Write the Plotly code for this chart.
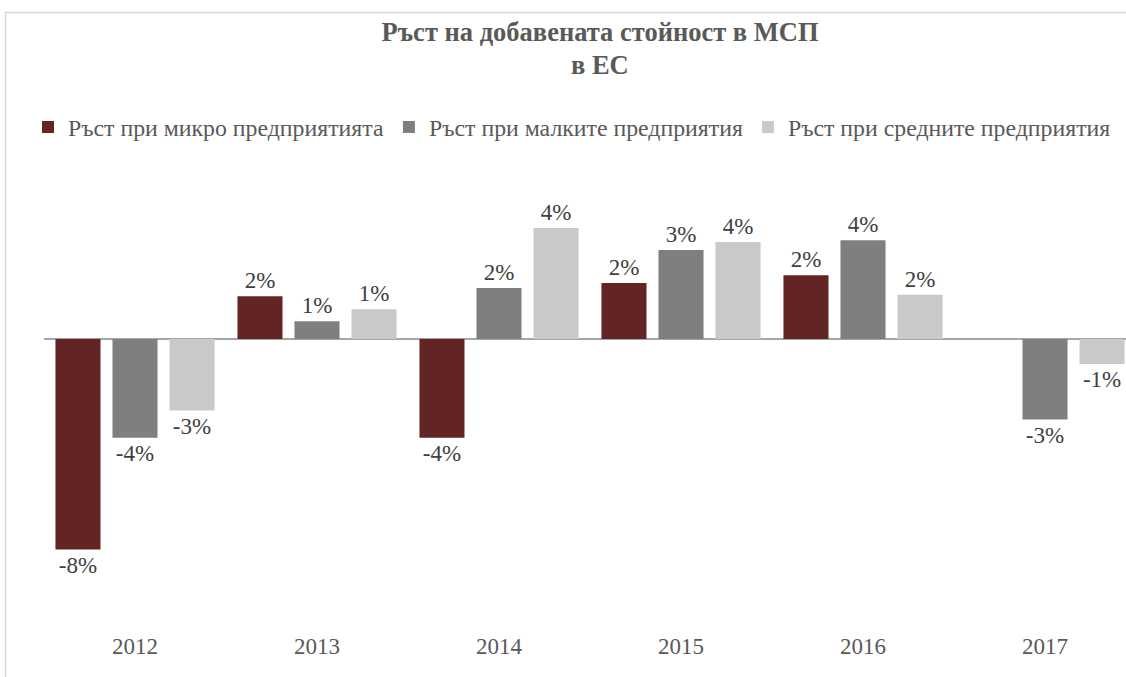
import plotly.graph_objects as go

years = ["2012", "2013", "2014", "2015", "2016", "2017"]
micro = [-8.1, 1.64, -3.8, 2.15, 2.45, None]
small = [-3.8, 0.68, 1.96, 3.42, 3.8, -3.1]
medium = [-2.75, 1.14, 4.27, 3.73, 1.7, -0.96]
names = ["Ръст при микро предприятията", "Ръст при малките предприятия", "Ръст при средните предприятия"]
colors = ["#632523", "#7f7f7f", "#c9c9c9"]
title_lines = ["Ръст на добавената стойност в МСП", "в ЕС"]

def labels(vals):
    return ["" if v is None else f"{round(v):.0f}%" for v in vals]

FONT = "Liberation Serif"

fig = go.Figure()
for name, vals, col in zip(names, [micro, small, medium], colors):
    fig.add_trace(go.Bar(
        x=years, y=vals, name=name, marker=dict(color=col, line=dict(width=0)),
        text=labels(vals), textposition="outside", constraintext="none", cliponaxis=False,
        textfont=dict(family=FONT, size=23, color="#404040"),
    ))

fig.update_layout(
    width=1126, height=677,
    margin=dict(l=44, r=0, t=180, b=47, autoexpand=False),
    paper_bgcolor="white", plot_bgcolor="white",
    barmode="group", bargap=0.06, bargroupgap=0.21,
    title=dict(text="<b>" + title_lines[0] + "</b>",
               x=600/1126, xref="container", xanchor="center",
               y=1 - 32/677, yref="container", yanchor="middle",
               font=dict(family=FONT, size=26.5, color="#595959")),
    annotations=[dict(text="<b>" + title_lines[1] + "</b>", xref="paper", yref="paper",
                      x=(600-44)/1082, y=(630-65.5)/450, xanchor="center", yanchor="middle",
                      showarrow=False, font=dict(family=FONT, size=26.5, color="#595959"))],
    legend=dict(orientation="h", x=(28-44)/1082, xanchor="left", y=1 + (180-127)/450, yanchor="middle",
                font=dict(family=FONT, size=23.8, color="#595959"),
                itemwidth=30, traceorder="normal"),
    font=dict(family=FONT, color="#595959"),
    xaxis=dict(range=[-0.5, 5.445], showgrid=False, showline=False, ticks="",
               tickfont=dict(family=FONT, size=23, color="#595959"), fixedrange=True),
    yaxis=dict(range=[-(630-339)/26.0, (339-180)/26.0], showgrid=False, showticklabels=False,
               zeroline=True, zerolinecolor="#a6a6a6", zerolinewidth=1.5, showline=False,
               fixedrange=True),
    shapes=[dict(type="rect", xref="paper", yref="paper",
                 x0=(5.5-44)/1082, x1=1.5, y0=-0.5, y1=(630-12.5)/450,
                 line=dict(color="#d9d9d9", width=1.5), fillcolor="rgba(0,0,0,0)", layer="below")],
)

fig.write_html("out.html", config={"displayModeBar": False},
               post_script="document.body.style.margin='0';document.body.style.overflow='hidden';")
